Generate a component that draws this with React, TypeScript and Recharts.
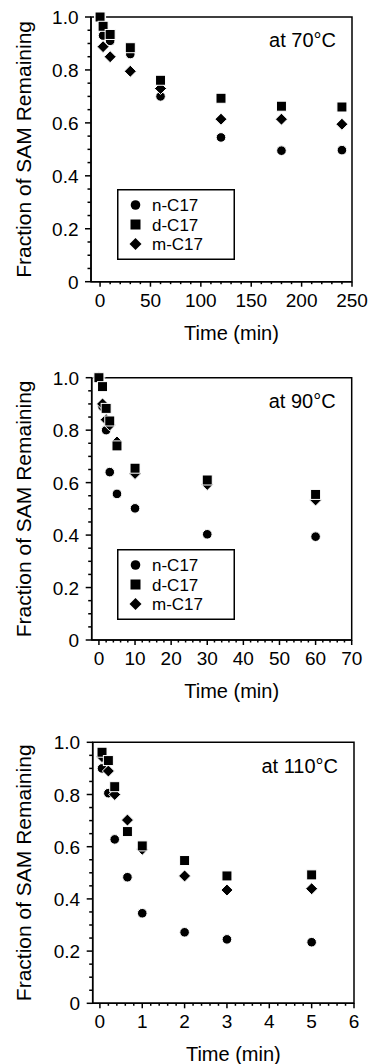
import React from 'react';
import { ScatterChart, Scatter, XAxis, YAxis, ReferenceArea, Legend } from 'recharts';

const FONT = '"Liberation Sans", Arial, Helvetica, sans-serif';

const SERIES_NAMES = ['n-C17', 'd-C17', 'm-C17'];

// 70 °C
const TIME_70 = [0, 3, 10, 30, 60, 120, 180, 240];
const N_70 = [1.0, 0.93, 0.91, 0.86, 0.7, 0.545, 0.495, 0.497];
const D_70 = [1.0, 0.965, 0.934, 0.884, 0.761, 0.693, 0.663, 0.66];
const M_70 = [1.0, 0.888, 0.85, 0.795, 0.73, 0.614, 0.614, 0.595];
const X_TICKS_70 = [0, 50, 100, 150, 200, 250];

// 90 °C
const TIME_90 = [0, 1, 2, 3, 5, 10, 30, 60];
const N_90 = [1.0, 0.89, 0.8, 0.64, 0.557, 0.502, 0.403, 0.394];
const D_90 = [1.0, 0.966, 0.883, 0.835, 0.74, 0.655, 0.61, 0.555];
const M_90 = [1.0, 0.9, 0.84, 0.82, 0.755, 0.635, 0.593, 0.534];
const X_TICKS_90 = [0, 10, 20, 30, 40, 50, 60, 70];

// 110 °C
const TIME_110 = [0.05, 0.2, 0.35, 0.65, 1, 2, 3, 5];
const N_110 = [0.9, 0.805, 0.628, 0.483, 0.345, 0.272, 0.245, 0.234];
const D_110 = [0.962, 0.93, 0.83, 0.658, 0.603, 0.547, 0.488, 0.492];
const M_110 = [0.945, 0.89, 0.8, 0.702, 0.59, 0.488, 0.434, 0.439];
const X_TICKS_110 = [0, 1, 2, 3, 4, 5, 6];

const Y_TICKS = [0, 0.2, 0.4, 0.6, 0.8, 1.0];

const pts = (t: number[], v: number[]) => t.map((x, i) => ({ t: x, v: v[i] }));

// majors plus minor subdivisions
function withMinor(majors: number[], sub: number) {
  const out: number[] = [];
  for (let i = 0; i < majors.length - 1; i++) {
    const a = majors[i], b = majors[i + 1];
    for (let k = 0; k < sub; k++) out.push(+(a + ((b - a) * k) / sub).toFixed(6));
  }
  out.push(majors[majors.length - 1]);
  return out;
}

const isMajor = (majors: number[], v: number) => majors.some((m) => Math.abs(m - v) < 1e-6);

const Dot = (p: any) => (
  <circle cx={p.cx} cy={p.cy} r={4.8} fill="#000" stroke="#fff" strokeWidth={1} />
);
const Sq = (p: any) => (
  <rect x={p.cx - 5} y={p.cy - 5} width={10} height={10} fill="#000" stroke="#fff" strokeWidth={1} />
);
const Dia = (p: any) => (
  <polygon
    points={`${p.cx},${p.cy - 6} ${p.cx + 6},${p.cy} ${p.cx},${p.cy + 6} ${p.cx - 6},${p.cy}`}
    fill="#000"
    stroke="#fff"
    strokeWidth={1}
  />
);

const xTick = (majors: number[]) => (props: any) => {
  const { x, y, payload } = props;
  const big = isMajor(majors, payload.value);
  return (
    <g>
      <line x1={x} x2={x} y1={y} y2={y + (big ? 5 : 2.5)} stroke="#000" strokeWidth={1.5} />
      {big && (
        <text x={x} y={y + 25} textAnchor="middle" fontSize={19} fontFamily={FONT} fill="#000">
          {payload.value}
        </text>
      )}
    </g>
  );
};

const yTick = (props: any) => {
  const { x, y, payload } = props;
  const big = isMajor(Y_TICKS, payload.value);
  return (
    <g>
      <line x1={x} x2={x - (big ? 6 : 3.5)} y1={y} y2={y} stroke="#000" strokeWidth={1.5} />
      {big && (
        <text x={x - 12.5} y={y + 7} textAnchor="end" fontSize={19} fontFamily={FONT} fill="#000">
          {payload.value === 0 ? '0' : payload.value.toFixed(1)}
        </text>
      )}
    </g>
  );
};

const LegendBox = () => {
  const rows = [16, 35.5, 55];
  const shapes = [
    <circle cx={18.5} cy={rows[0]} r={4.8} fill="#000" />,
    <rect x={13.5} y={rows[1] - 5} width={10} height={10} fill="#000" />,
    <polygon
      points={`18.5,${rows[2] - 6} 24.5,${rows[2]} 18.5,${rows[2] + 6} 12.5,${rows[2]}`}
      fill="#000"
    />,
  ];
  return (
    <svg width={118} height={71} style={{ display: 'block' }}>
      <rect x={0.75} y={0.75} width={116.5} height={69.5} fill="#fff" stroke="#000" strokeWidth={1.5} />
      {SERIES_NAMES.map((name, i) => (
        <g key={name}>
          {shapes[i]}
          <text x={35} y={rows[i] + 6.3} fontSize={17} fontFamily={FONT} fill="#000">
            {name}
          </text>
        </g>
      ))}
    </svg>
  );
};

type Panel = {
  top: number;
  height: number;
  left: number;
  right: number;
  plotTop: number;
  plotBottom: number;
  domain: [number, number];
  majors: number[];
  label: string;
  time: number[];
  n: number[];
  d: number[];
  m: number[];
  legendTop?: number;
};

const PANELS: Panel[] = [
  {
    top: 0, height: 360, left: 91, right: 352, plotTop: 17, plotBottom: 281.7,
    domain: [-9, 250], majors: X_TICKS_70, label: 'at 70°C',
    time: TIME_70, n: N_70, d: D_70, m: M_70, legendTop: 189.3,
  },
  {
    top: 350, height: 365, left: 91.7, right: 351.7, plotTop: 377.7, plotBottom: 640,
    domain: [-2, 70], majors: X_TICKS_90, label: 'at 90°C',
    time: TIME_90, n: N_90, d: D_90, m: M_90, legendTop: 549.3,
  },
  {
    top: 700, height: 364, left: 92.7, right: 354, plotTop: 742.3, plotBottom: 1003.3,
    domain: [-0.17, 6], majors: X_TICKS_110, label: 'at 110°C',
    time: TIME_110, n: N_110, d: D_110, m: M_110,
  },
];

const XH = 60;

function DecayPanel({ p }: { p: Panel }) {
  const margin = {
    top: p.plotTop - p.top,
    left: 0,
    right: 372 - p.right,
    bottom: p.height - (p.plotBottom - p.top) - XH,
  };
  return (
    <div style={{ position: 'absolute', left: 0, top: p.top }}>
      <ScatterChart width={372} height={p.height} margin={margin}>
        <XAxis
          type="number"
          dataKey="t"
          domain={p.domain}
          ticks={withMinor(p.majors, 5)}
          interval={0}
          tick={xTick(p.majors)}
          tickLine={false}
          tickSize={0}
          tickMargin={0}
          height={XH}
          axisLine={{ stroke: '#000', strokeWidth: 1.5 }}
          label={{
            value: 'Time (min)',
            position: 'insideBottom',
            offset: 2,
            dx: 10,
            fontSize: 20,
            fontFamily: FONT,
            fill: '#000',
          }}
        />
        <YAxis
          type="number"
          dataKey="v"
          domain={[0, 1]}
          ticks={withMinor(Y_TICKS, 4)}
          interval={0}
          tick={yTick}
          tickLine={false}
          tickSize={0}
          tickMargin={0}
          width={p.left}
          axisLine={{ stroke: '#000', strokeWidth: 1.5 }}
          label={{
            value: 'Fraction of SAM Remaining',
            angle: -90,
            position: 'insideLeft',
            offset: 24,
            fontSize: 21,
            fontFamily: FONT,
            fill: '#000',
            style: { textAnchor: 'middle' },
          }}
        />
        <ReferenceArea
          x1={p.domain[0]}
          x2={p.domain[1]}
          y1={0}
          y2={1}
          fill="none"
          stroke="#000"
          strokeWidth={1.5}
          ifOverflow="visible"
          label={{
            value: p.label,
            position: 'insideTopRight',
            offset: 16,
            fontSize: 20,
            fontFamily: FONT,
            fill: '#000',
          }}
        />
        <Scatter name={SERIES_NAMES[0]} data={pts(p.time, p.n)} shape={Dot} isAnimationActive={false} />
        <Scatter name={SERIES_NAMES[2]} data={pts(p.time, p.m)} shape={Dia} isAnimationActive={false} />
        <Scatter name={SERIES_NAMES[1]} data={pts(p.time, p.d)} shape={Sq} isAnimationActive={false} />
        {p.legendTop !== undefined && (
          <Legend
            layout="horizontal"
            verticalAlign="middle"
            align="center"
            content={() => <LegendBox />}
            wrapperStyle={{ left: 116.7, top: p.legendTop - p.top, width: 118, height: 71 }}
          />
        )}
      </ScatterChart>
    </div>
  );
}

export default function App() {
  return (
    <div style={{ position: 'absolute', left: 0, top: 0, width: 372, height: 1064, background: '#fff' }}>
      {PANELS.map((p) => (
        <DecayPanel key={p.label} p={p} />
      ))}
    </div>
  );
}
